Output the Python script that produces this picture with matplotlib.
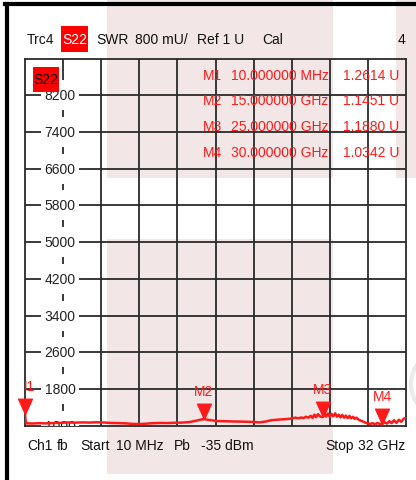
import matplotlib
matplotlib.use("Agg")
import matplotlib.pyplot as plt
from matplotlib.patches import Rectangle, Circle
from matplotlib.lines import Line2D
from matplotlib import font_manager
import numpy as np

# ---------------- data ----------------
y_ticks = [1000, 1800, 2600, 3400, 4200, 5000, 5800, 6600, 7400, 8200, 9000]
y_labels = ["1000", "1800", "2600", "3400", "4200", "5000", "5800", "6600", "7400", "8200"]
f_start, f_stop = 0.01, 32.0  # GHz

trace_f = [0.01, 0.06, 0.15, 0.6, 1.2, 1.8, 2.4, 3.0, 3.5, 4.2, 4.8, 5.4, 6.0, 6.6,
           7.2, 7.8, 8.4, 9.0, 9.6, 10.2, 10.8, 11.4, 12.0, 12.6, 13.2, 13.8, 14.4,
           15.0, 15.6, 16.2, 16.8, 17.4, 18.0, 18.6, 19.2, 19.7, 20.2, 20.7, 21.2,
           21.7, 22.2, 22.7, 23.0, 23.2, 23.4, 23.6, 23.8, 24.0, 24.15, 24.3, 24.45,
           24.6, 24.8, 25.0, 25.15, 25.3, 25.45, 25.6, 25.75, 25.9, 26.05, 26.2,
           26.35, 26.5, 26.65, 26.8, 26.95, 27.1, 27.25, 27.4, 27.55, 27.7, 27.85,
           28.0, 28.2, 28.4, 28.6, 28.8, 29.0, 29.2, 29.4, 29.6, 29.8, 30.0, 30.2,
           30.4, 30.6, 30.8, 31.0, 31.2, 31.4, 31.6, 31.8, 32.0]
trace_mu = [1261, 1110, 1052, 1048, 1055, 1050, 1058, 1062, 1070, 1066, 1072, 1068, 1075, 1070,
            1060, 1058, 1052, 1040, 1035, 1045, 1055, 1060, 1058, 1064, 1068, 1078, 1110,
            1145, 1120, 1100, 1098, 1092, 1090, 1086, 1082, 1072, 1090, 1120, 1130,
            1140, 1150, 1175, 1160, 1180, 1165, 1195, 1175, 1215, 1170, 1240, 1185,
            1250, 1200, 1188, 1275, 1200, 1265, 1190, 1255, 1205, 1270, 1195,
            1240, 1180, 1235, 1175, 1220, 1165, 1215, 1160, 1195, 1150, 1175,
            1135, 1110, 1090, 1065, 1050, 1040, 1055, 1030, 1060, 1040, 1034, 1075,
            1045, 1100, 1055, 1120, 1060, 1130, 1085, 1150, 1170]

marker_names = ["M1", "M2", "M3", "M4"]
marker_f = [0.01, 15.0, 25.0, 30.0]
marker_freq_text = ["10.000000 MHz", "15.000000 GHz", "25.000000 GHz", "30.000000 GHz"]
marker_val = [1.2614, 1.1451, 1.1880, 1.0342]

# ---------------- style ----------------
names = {f.name for f in font_manager.fontManager.ttflist}
FAM = ["Liberation Sans Narrow", "Liberation Sans", "DejaVu Sans"]
FAM = [f for f in FAM if f in names] or ["DejaVu Sans"]
plt.rcParams["font.family"] = FAM
FS = 12.5 if FAM[0] == "Liberation Sans Narrow" else 10
RED = "#ff1a1a"
GRID = "#2a2a2a"
PINK = "#f3e6e6"

W, H = 416, 481
fig = plt.figure(figsize=(W / 100, H / 100), dpi=100)
fig.patch.set_facecolor("white")

def fx(px):
    return px / W

def fy(py):
    return 1 - py / H

# pink overlay regions (background)
for (x0, y0, x1, y1) in [(107, 0, 333, 179), (396, 0, 416, 179), (107, 240, 333, 475)]:
    fig.patches.append(Rectangle((fx(x0), fy(y1)), fx(x1) - fx(x0), fy(y0) - fy(y1),
                                 transform=fig.transFigure, facecolor=PINK,
                                 edgecolor="none", zorder=-5))

# faint grey arc at the right edge
arc = Circle((445, H - 385), 34, transform=None, facecolor="none",
             edgecolor="#ebebeb", lw=3, zorder=-4)
fig.patches.append(arc)

# outer frame lines
fig.lines.append(Line2D([fx(7), fx(7)], [fy(5), fy(481)], transform=fig.transFigure,
                        color="black", lw=3.0, zorder=5))
fig.lines.append(Line2D([fx(5), fx(416)], [fy(5), fy(5)], transform=fig.transFigure,
                        color="black", lw=3.0, zorder=5))

# axes
L, R, T, B = 25, 406, 59.5, 426.7
ax = fig.add_axes([fx(L), fy(B), fx(R) - fx(L), fy(T) - fy(B)])
ax.set_facecolor("none")
ax.set_xlim(f_start, f_stop)
ax.set_ylim(y_ticks[0], y_ticks[-1])
ax.set_xticks([])
ax.set_yticks([])
for s in ax.spines.values():
    s.set_color(GRID)
    s.set_linewidth(1.3)

xgrid = np.linspace(f_start, f_stop, 11)
for xv in xgrid[1:-1]:
    ax.axvline(xv, color=GRID, lw=1.3, zorder=1)
for yv in y_ticks[1:-1]:
    ax.axhline(yv, color=GRID, lw=1.3, zorder=1)

# y labels inside grid with white cover
blend = matplotlib.transforms.blended_transform_factory(ax.transAxes, ax.transData)
lab_right = (75.5 - L) / (R - L)
cov_x0 = (60 - L) / (R - L)
cov_x1 = (68 - L) / (R - L)
half = 15 / ((B - T) / (y_ticks[-1] - y_ticks[0]))
for v, s in zip(y_ticks[:-1], y_labels):
    r = Rectangle((cov_x0, v - half), cov_x1 - cov_x0, 2 * half, transform=blend,
                  facecolor="white", edgecolor="none", zorder=2)
    r.set_clip_box(ax.bbox)
    ax.add_patch(r)
    t = ax.text(lab_right, v, s, transform=blend, ha="right", va="center",
                fontsize=FS, color="#222222", zorder=3,
                bbox=dict(boxstyle="square,pad=0.25", facecolor="white", edgecolor="none"))
    t.set_clip_box(ax.bbox)
    t.set_clip_on(True)

# trace
ax.plot(trace_f, trace_mu, color=RED, lw=1.8, zorder=4, clip_on=True)

# markers
tri = [(0, 0), (-0.45, 1), (0.45, 1), (0, 0)]
for n, f, v in zip(marker_names, marker_f, marker_val):
    ax.plot([f], [v * 1000], marker=tri, markersize=22, color=RED, mec=RED,
            zorder=5, clip_on=False)
    t = ax.annotate(n, xy=(f, v * 1000), xytext=(0, 28), textcoords="offset pixels",
                    ha="center", va="center", color=RED, fontsize=FS, zorder=5)
    t.set_clip_box(ax.bbox)
    t.set_clip_on(True)

# inner S22 box
fig.patches.append(Rectangle((fx(33), fy(93)), fx(59) - fx(33), fy(68) - fy(93),
                             transform=fig.transFigure, facecolor="#ff0000",
                             edgecolor="none", zorder=6))
fig.text(fx(46), fy(80.5), "S22", ha="center", va="center", fontsize=FS,
         color="black", zorder=7)

# marker table
for i, (n, ft, v) in enumerate(zip(marker_names, marker_freq_text, marker_val)):
    yy = fy(75.5 + i * 25.7)
    fig.text(fx(203), yy, n, ha="left", va="center", fontsize=FS, color=RED, zorder=7)
    fig.text(fx(328.5), yy, ft, ha="right", va="center", fontsize=FS, color=RED, zorder=7)
    fig.text(fx(399.5), yy, f"{v:.4f} U", ha="right", va="center", fontsize=FS,
             color=RED, zorder=7)

# header
hy = fy(40.5)
fig.patches.append(Rectangle((fx(61), fy(53)), fx(88) - fx(61), fy(27) - fy(53),
                             transform=fig.transFigure, facecolor="#ff0000",
                             edgecolor="none", zorder=6))
fig.text(fx(74.5), hy, "S22", ha="center", va="center", fontsize=FS, color="white", zorder=7)
for x, s in [(27, "Trc4"), (96, "SWR"), (135, "800 mU/"), (197, "Ref 1 U"), (262, "Cal")]:
    fig.text(fx(x), hy, s, ha="left", va="center", fontsize=FS, color="#111111", zorder=7)
fig.text(fx(405), hy, "4", ha="right", va="center", fontsize=FS, color="#111111", zorder=7)

# footer
by = fy(446)
for x, s in [(27, "Ch1"), (57, "fb"), (80, "Start"), (116, "10 MHz"), (174, "Pb"),
             (201, "-35 dBm"), (325, "Stop")]:
    fig.text(fx(x), by, s, ha="left", va="center", fontsize=FS, color="#111111", zorder=7)
fig.text(fx(405), by, "32 GHz", ha="right", va="center", fontsize=FS, color="#111111", zorder=7)

fig.savefig("out.png", dpi=100)
